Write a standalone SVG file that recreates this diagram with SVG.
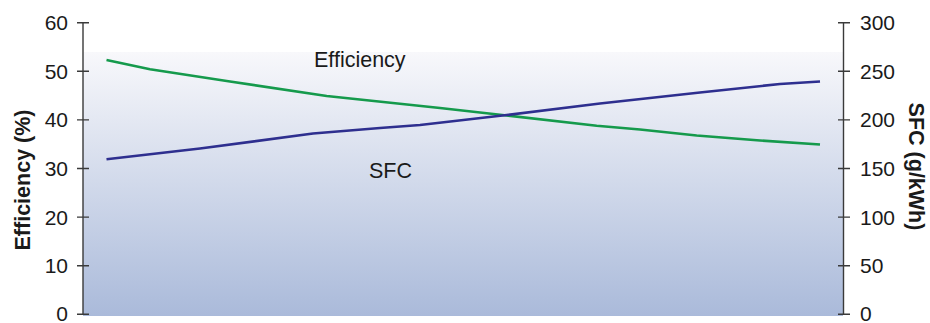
<svg xmlns="http://www.w3.org/2000/svg" width="930" height="323" viewBox="0 0 930 323">
<defs>
<linearGradient id="bg" x1="0" y1="0" x2="0" y2="1">
<stop offset="0" stop-color="#f8f8fb"/>
<stop offset="1" stop-color="#aabada"/>
</linearGradient>
<style>
.tick{font-family:"Liberation Sans",Arial,sans-serif;font-size:21px;fill:#1a1a1a}
.title{font-family:"Liberation Sans",Arial,sans-serif;font-size:21.5px;font-weight:bold;fill:#1a1a1a}
.lbl{font-family:"Liberation Sans",Arial,sans-serif;font-size:21.5px;fill:#1a1a1a}
.ax{stroke:#3a3a3a;stroke-width:1.4;fill:none}
.ser{fill:none;stroke-width:2.6;stroke-linejoin:round;stroke-linecap:butt}
</style>
</defs>
<rect x="83" y="52" width="760" height="264" fill="url(#bg)"/>
<g id="left-axis">
<path class="ax" d="M83 22.7V315M77 22.7H89M77 71.3H89M77 119.9H89M77 168.5H89M77 217.1H89M77 265.7H89M77 314.3H89"/>
<g class="tick" text-anchor="end">
<text x="68" y="30.2">60</text>
<text x="68" y="78.8">50</text>
<text x="68" y="127.4">40</text>
<text x="68" y="176">30</text>
<text x="68" y="224.6">20</text>
<text x="68" y="273.2">10</text>
<text x="68" y="320.5">0</text>
</g>
<text class="title" text-anchor="middle" transform="translate(30,180) rotate(-90)">Efficiency (%)</text>
</g>
<g id="right-axis">
<path class="ax" d="M843.5 22.7V315M838 22.7H850M838 71.3H850M838 119.9H850M838 168.5H850M838 217.1H850M838 265.7H850M838 314.3H850"/>
<g class="tick" text-anchor="start">
<text x="860" y="30.2">300</text>
<text x="860" y="78.8">250</text>
<text x="860" y="127.4">200</text>
<text x="860" y="176">150</text>
<text x="860" y="224.6">100</text>
<text x="860" y="273.2">50</text>
<text x="860" y="320.5">0</text>
</g>
<text class="title" text-anchor="middle" transform="translate(909,166.5) rotate(90)">SFC (g/kWh)</text>
</g>
<g id="connectors">
<polyline id="efficiency-line" class="ser" stroke="#159a4c" points="106.5,60 150,69.3 230,81.5 326.7,96 440,108 506.7,115.5 596.7,125.7 640,129.5 696.7,135.5 760,140.5 820,144.5"/>
<polyline id="sfc-line" class="ser" stroke="#2e2f8f" points="106.5,159.3 200,148.5 313,133.5 380,128 420,125 506.7,115 600,103.5 700,92.5 780,84 820,81.5"/>
</g>
<g id="labels">
<text class="lbl" x="314" y="67">Efficiency</text>
<text class="lbl" x="369" y="178">SFC</text>
</g>
</svg>
